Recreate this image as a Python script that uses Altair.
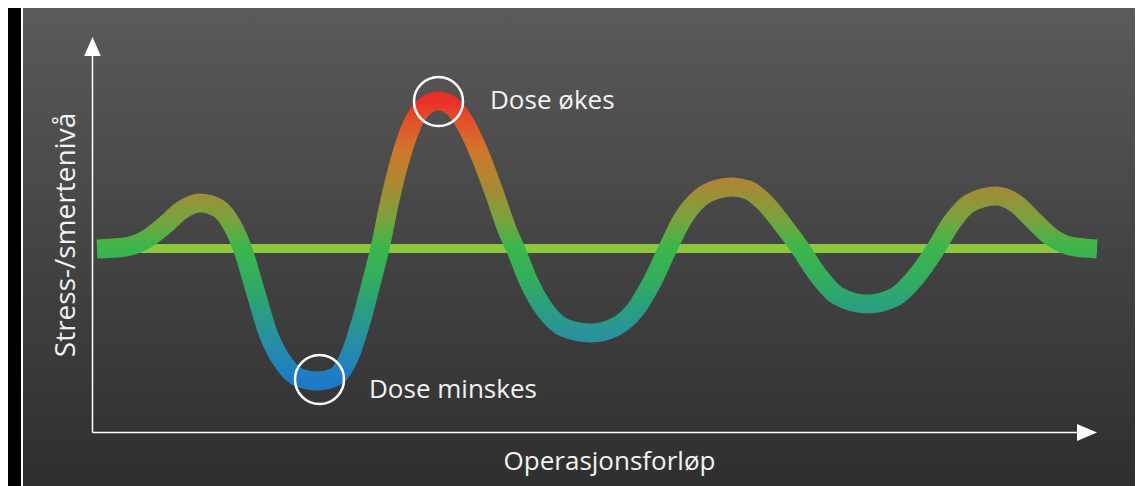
import altair as alt
import pandas as pd

# ---- data (x: course of operation, y: stress level, screen units) ----
wave_x = [97, 125, 145, 165, 182, 200, 218, 232, 243, 255, 268, 285, 300, 318, 335, 350,
          362, 372, 380, 390, 400, 412, 425, 438, 452, 466, 480, 495, 508, 516, 528, 545,
          565, 591, 615, 635, 652, 668, 682, 700, 718, 732, 748, 765, 783, 800, 818, 838,
          867, 895, 915, 935, 952, 970, 996, 1015, 1035, 1050, 1070, 1097]
wave_y = [249, 247, 240, 225, 210, 203, 208, 225, 250, 290, 333, 365, 378, 381, 377, 355,
          318, 280, 248, 200, 160, 125, 106, 101, 106, 125, 155, 195, 232, 250, 280, 310,
          328, 333, 327, 310, 282, 248, 220, 198, 189, 187, 190, 203, 225, 248, 275, 296,
          304, 297, 278, 250, 222, 203, 196, 203, 222, 236, 246, 249]

baseline_x = [97, 1097]
baseline_y = [248.5]

marker_x = [438.5, 319.5]
marker_y = [101.5, 379.5]

labels = ["Dose økes", "Dose minskes"]
label_x = [490, 369]
label_y = [108.5, 397.5]

x_title = "Operasjonsforløp"
y_title = "Stress-/smertenivå"

# ---- layout ----
W, H = 1127, 478
X = alt.Scale(domain=[8, 8 + W], zero=False, nice=False)
Y = alt.Scale(domain=[8, 8 + H], zero=False, nice=False, reverse=True)


def xe(f):
    return alt.X(f, type="quantitative", scale=X, axis=None)


def ye(f):
    return alt.Y(f, type="quantitative", scale=Y, axis=None)


def x2e(f):
    return alt.X2(f)


def y2e(f):
    return alt.Y2(f)


FONT = "Open Sans"
TXT = "#f2f2f2"

bg_grad = alt.Gradient(
    gradient="linear", x1=0, y1=0, x2=0, y2=1,
    stops=[alt.GradientStop(offset=0, color="#5b5959"),
           alt.GradientStop(offset=1, color="#2e2e2e")])

wave_stops = [(0.0, "#ea2e28"), (0.07, "#e2522a"), (0.18, "#d0772c"), (0.32, "#a28c36"),
              (0.43, "#74a53e"), (0.52, "#3cb64a"), (0.64, "#33ad5e"), (0.73, "#2aa07c"),
              (0.83, "#2a929c"), (0.92, "#2386b4"), (1.0, "#1c7ac6")]
wave_grad = alt.Gradient(
    gradient="linear", x1=0, y1=0, x2=0, y2=1,
    stops=[alt.GradientStop(offset=o, color=c) for o, c in wave_stops])

# background panel with white frame
frame = alt.Chart(pd.DataFrame({"x": [22], "x2": [1137], "y": [6], "y2": [492]})).mark_rect(
    fill=bg_grad, stroke="white", strokeWidth=2
).encode(x=xe("x"), x2=x2e("x2"), y=ye("y"), y2=y2e("y2"))

# axes (arrows)
axis_df = pd.DataFrame({"x": [92.5, 92.5], "x2": [92.5, 1080], "y": [52, 432.5], "y2": [432.5, 432.5]})
axes = alt.Chart(axis_df).mark_rule(color="white", strokeWidth=1.5).encode(
    x=xe("x"), x2=x2e("x2"), y=ye("y"), y2=y2e("y2"))

arrow_up = alt.Chart(pd.DataFrame({"x": [92.5], "y": [46.5]})).mark_point(
    shape="M0,-1L0.875,1L-0.875,1Z", filled=True, fill="white", strokeWidth=0, opacity=1, size=361
).encode(x=xe("x"), y=ye("y"))
arrow_right = alt.Chart(pd.DataFrame({"x": [1087], "y": [432.5]})).mark_point(
    shape="M1,0L-1,0.85L-1,-0.85Z", filled=True, fill="white", strokeWidth=0, opacity=1, size=400
).encode(x=xe("x"), y=ye("y"))

# reference level
base = alt.Chart(pd.DataFrame({"x": [baseline_x[0]], "x2": [baseline_x[1]], "y": baseline_y})).mark_rule(
    color="#8dc63f", strokeWidth=9, strokeCap="butt"
).encode(x=xe("x"), x2=x2e("x2"), y=ye("y"))

# stress curve
wave = alt.Chart(pd.DataFrame({"x": wave_x, "y": wave_y, "o": list(range(len(wave_x)))})).mark_line(
    interpolate="monotone", stroke=wave_grad, strokeWidth=19, strokeCap="butt"
).encode(x=xe("x"), y=ye("y"), order="o:Q")

# markers
markers = alt.Chart(pd.DataFrame({"x": marker_x, "y": marker_y})).mark_point(
    shape="circle", filled=False, stroke="white", strokeWidth=2.5, opacity=1, size=2401
).encode(x=xe("x"), y=ye("y"))

texts = alt.Chart(pd.DataFrame({"x": label_x, "y": label_y, "t": labels})).mark_text(
    font=FONT, fontSize=26, color=TXT, align="left", baseline="alphabetic"
).encode(x=xe("x"), y=ye("y"), text="t:N")

xt = alt.Chart(pd.DataFrame({"x": [609.5], "y": [470], "t": [x_title]})).mark_text(
    font=FONT, fontSize=26, color=TXT, align="center", baseline="alphabetic"
).encode(x=xe("x"), y=ye("y"), text="t:N")

yt = alt.Chart(pd.DataFrame({"x": [74.5], "y": [235], "t": [y_title]})).mark_text(
    font=FONT, fontSize=28, color=TXT, align="center", baseline="alphabetic", angle=270
).encode(x=xe("x"), y=ye("y"), text="t:N")

chart = alt.layer(frame, base, wave, axes, arrow_up, arrow_right, markers, texts, xt, yt).properties(
    width=W, height=H, padding=0, background="#000000",
    autosize=alt.AutoSizeParams(type="none")
).configure_view(strokeWidth=0)

chart.save("out.html", embed_options={"renderer": "svg", "actions": False})
